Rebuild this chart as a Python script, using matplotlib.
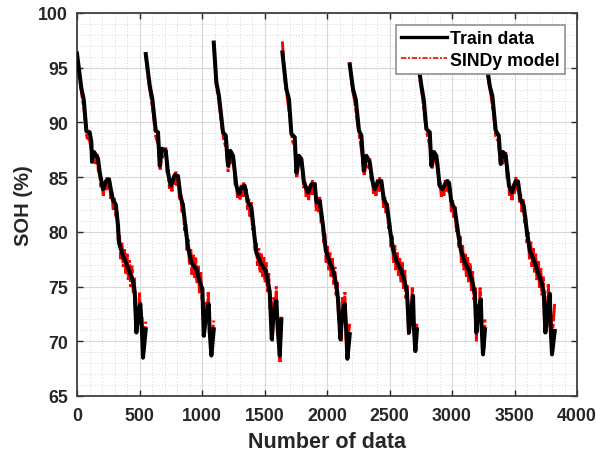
import numpy as np
import matplotlib
matplotlib.use("Agg")
import matplotlib.pyplot as plt
from matplotlib.ticker import MultipleLocator
from matplotlib.lines import Line2D

# ---------------- data ----------------
cycle_start = [0, 550, 1094, 1643, 2182, 2725, 3270]

train_off_1 = [0, 35, 54, 75, 101, 115, 120, 136, 168, 182, 208, 235, 256, 275, 288, 310, 328, 336, 368, 395, 422, 448, 462, 475, 488, 507, 520, 528, 550]
train_soh_1 = [96.3, 93.1, 92.1, 89.2, 89.1, 88.2, 86.4, 87.3, 86.7, 85.4, 83.9, 84.7, 84.8, 83.6, 82.9, 82.5, 80.6, 79.0, 77.8, 77.1, 76.3, 75.5, 74.5, 70.8, 72.6, 73.4, 70.8, 68.5, 71.1]

train_off_2 = [0, 32, 53, 80, 98, 112, 130, 160, 178, 200, 232, 258, 277, 298, 320, 338, 365, 405, 432, 453, 464, 485, 504, 512, 525, 544]
train_soh_2 = [96.25, 93.35, 92.1, 89.25, 89.1, 86.05, 87.6, 87.4, 85.4, 84.2, 85.2, 85.1, 83.3, 82.4, 80.25, 78.6, 77.2, 76.6, 75.4, 74.8, 70.5, 72.6, 73.4, 70.8, 68.7, 71.1]

train_off_3 = [0, 21, 42, 74, 96, 114, 133, 154, 181, 202, 221, 248, 274, 301, 322, 341, 381, 416, 434, 448, 464, 480, 501, 514, 528, 541]
train_soh_3 = [97.3, 93.65, 92.4, 89.1, 88.8, 86.05, 87.4, 86.95, 84.2, 83.45, 84.05, 84.2, 82.7, 82.25, 79.95, 78.1, 77.05, 76.45, 75.4, 74.5, 70.2, 72.6, 73.7, 70.8, 68.7, 72.0]

train_off_4 = [0, 32, 53, 72, 99, 112, 133, 152, 173, 205, 232, 259, 272, 299, 325, 347, 379, 411, 432, 445, 464, 480, 499, 512, 520, 539]
train_soh_4 = [96.4, 93.05, 92.1, 88.95, 88.65, 85.4, 86.95, 86.65, 84.5, 83.6, 84.35, 84.35, 82.7, 82.85, 80.55, 78.3, 77.2, 76.3, 75.1, 73.85, 70.2, 72.6, 73.4, 70.8, 68.4, 70.65]

train_off_5 = [0, 26, 48, 74, 93, 112, 133, 160, 181, 200, 226, 253, 272, 298, 325, 346, 378, 413, 440, 458, 474, 493, 506, 514, 525, 538]
train_soh_5 = [95.3, 93.05, 92.1, 89.25, 88.8, 85.6, 86.95, 86.35, 84.65, 83.9, 84.6, 84.65, 83.0, 82.4, 79.95, 78.4, 77.2, 76.45, 75.4, 74.5, 70.8, 72.95, 74.15, 71.1, 69.1, 71.1]

train_off_6 = [0, 30, 49, 70, 97, 110, 131, 150, 177, 198, 230, 251, 270, 297, 323, 345, 377, 411, 438, 457, 470, 489, 505, 513, 523, 539]
train_soh_6 = [95.8, 93.35, 92.1, 89.4, 89.1, 86.05, 87.3, 86.95, 84.2, 83.9, 84.6, 84.5, 82.7, 82.1, 79.95, 78.4, 77.2, 76.45, 75.4, 74.5, 70.8, 72.95, 73.85, 71.1, 68.8, 71.1]

train_off_7 = [0, 32, 53, 80, 104, 120, 138, 160, 186, 208, 240, 258, 277, 304, 330, 352, 392, 418, 445, 464, 477, 498, 512, 520, 530, 552]
train_soh_7 = [95.8, 93.35, 92.4, 89.25, 88.8, 86.2, 87.3, 86.95, 84.2, 83.6, 84.65, 84.6, 83.0, 82.4, 79.95, 78.3, 77.2, 76.3, 75.4, 74.5, 70.8, 73.25, 74.35, 71.1, 68.8, 70.95]

# SINDy model: common local sample grid; the last point sits at each cycle's final sample
sindy_off = [0, 20, 40, 60, 80, 100, 115, 130,
             150, 160, 170, 180, 190, 200, 210, 220, 230, 240,
             250, 260, 270, 280, 290, 300, 310, 320, 330, 340,
             350, 360, 370, 380, 390, 400, 410, 420, 430, 440,
             450, 460, 470, 480, 490, 500, 510, 520, 530]

sindy_soh_1 = [96.2, 94.2, 92.4, 90.9, 88.6, 88.4, 87.4, 86.4,
               86.3, 87.1, 85.7, 85.8, 84.1, 84.6, 83.2, 84.5, 83.8, 85.0,
               83.9, 84.9, 82.9, 83.6, 81.9, 83.1, 81.4, 81.8, 79.2, 79.7,
               77.5, 79.0, 76.8, 78.4, 76.2, 78.0, 75.6, 77.4, 75.0, 76.9,
               74.4, 75.8, 71.2, 73.0, 71.5, 74.5, 71.8, 72.2, 69.5, 71.8]
sindy_soh_2 = [96.1, 94.0, 92.4, 90.8, 88.7, 88.0, 85.7, 86.9,
               86.8, 87.7, 85.5, 85.5, 83.9, 84.4, 83.7, 85.1, 84.3, 85.5,
               84.2, 85.2, 82.9, 83.5, 81.7, 82.6, 80.1, 80.7, 78.3, 79.3,
               77.0, 78.4, 76.1, 77.9, 75.8, 77.7, 75.3, 76.9, 74.4, 76.3,
               73.9, 73.3, 70.4, 73.6, 71.6, 74.6, 70.5, 70.9, 70.2, 71.9]
sindy_soh_3 = [97.2, 93.4, 92.0, 90.0, 88.4, 87.6, 85.5, 86.6,
               86.3, 86.8, 84.5, 84.6, 83.1, 83.8, 82.9, 84.3, 83.2, 84.5,
               83.2, 83.9, 82.0, 83.0, 81.4, 82.7, 80.2, 80.6, 78.2, 79.0,
               76.9, 78.5, 76.3, 78.0, 75.9, 77.7, 75.4, 77.2, 74.5, 76.2,
               72.9, 72.6, 70.0, 74.0, 72.0, 75.0, 70.6, 71.2, 68.1, 72.4]
sindy_soh_4 = [97.4, 93.9, 92.2, 90.4, 88.3, 87.8, 85.0, 86.1,
               85.9, 86.2, 84.0, 84.6, 83.2, 84.0, 82.9, 84.3, 83.4, 84.7,
               83.4, 84.6, 81.9, 83.1, 81.8, 83.2, 80.8, 81.4, 79.0, 79.8,
               77.2, 78.8, 76.5, 78.1, 75.9, 77.6, 75.2, 76.8, 74.1, 75.4,
               71.8, 72.3, 70.0, 74.0, 71.8, 74.5, 70.2, 69.6, 70.8, 71.6]
sindy_soh_5 = [95.5, 93.1, 91.9, 90.1, 88.5, 87.0, 85.2, 86.1,
               85.9, 86.7, 84.8, 85.0, 83.5, 84.2, 83.3, 84.8, 83.7, 85.0,
               83.7, 84.4, 82.2, 83.2, 81.6, 82.6, 80.3, 80.9, 78.6, 79.7,
               77.2, 78.8, 76.5, 78.1, 75.9, 77.7, 75.4, 77.2, 74.8, 76.5,
               73.9, 75.2, 70.6, 73.0, 71.4, 75.0, 71.5, 71.4, 71.2, 71.6]
sindy_soh_6 = [95.7, 93.8, 92.2, 90.1, 88.7, 87.8, 85.8, 86.6,
               86.3, 86.5, 84.1, 84.5, 83.2, 84.2, 83.3, 84.7, 83.7, 84.9,
               83.6, 84.0, 81.8, 82.9, 81.3, 82.3, 80.0, 80.7, 78.5, 79.6,
               77.2, 78.8, 76.5, 78.1, 75.9, 77.7, 75.4, 77.1, 74.6, 76.4,
               73.8, 74.9, 70.0, 73.4, 71.9, 74.9, 71.1, 70.9, 69.2, 72.0]
sindy_soh_7 = [95.7, 93.9, 92.6, 91.0, 88.7, 88.3, 86.4, 86.2,
               86.5, 87.3, 85.1, 85.2, 83.3, 84.2, 82.9, 84.4, 83.5, 85.0,
               83.8, 84.8, 82.7, 83.4, 81.8, 83.0, 80.8, 81.4, 79.0, 80.0,
               77.5, 79.1, 76.8, 78.6, 76.3, 78.0, 75.6, 77.3, 74.9, 76.7,
               74.2, 75.9, 71.8, 72.8, 71.3, 75.2, 73.0, 72.6, 70.0, 73.6]

train_offs = [train_off_1, train_off_2, train_off_3, train_off_4, train_off_5, train_off_6, train_off_7]
train_sohs = [train_soh_1, train_soh_2, train_soh_3, train_soh_4, train_soh_5, train_soh_6, train_soh_7]
sindy_sohs = [sindy_soh_1, sindy_soh_2, sindy_soh_3, sindy_soh_4, sindy_soh_5, sindy_soh_6, sindy_soh_7]

x_ticks = [0, 500, 1000, 1500, 2000, 2500, 3000, 3500, 4000]
y_ticks = [65, 70, 75, 80, 85, 90, 95, 100]
legend_labels = ["Train data", "SINDy model"]
x_label = "Number of data"
y_label = "SOH (%)"

# ---------------- style ----------------
fam = "Liberation Sans"
plt.rcParams["font.family"] = [fam, "DejaVu Sans"]
plt.rcParams["font.weight"] = "bold"
tick_fs, xlab_fs, ylab_fs, leg_fs = 12.8, 15.5, 14.5, 12.8
red_ls_plot = (0, (6, 0.8, 1.5, 0.8))
red_ls_leg = (0, (3.2, 1.0, 1.2, 1.0))
txt_col = "#262626"

fig = plt.figure(figsize=(5.96, 4.60), dpi=100)
ax = fig.add_axes([77 / 596, 63 / 460, 500 / 596, 383 / 460])

for start, offs, t_soh, s_soh in zip(cycle_start, train_offs, train_sohs, sindy_sohs):
    sx = [start + o for o in sindy_off] + [start + offs[-1]]
    tx = [start + o for o in offs]
    ax.plot(sx, s_soh, color="#ff0000", lw=2.1, ls=red_ls_plot, zorder=2,
            solid_joinstyle="miter", dash_joinstyle="miter")
    ax.plot(tx, t_soh, color="black", lw=2.9, zorder=3, solid_joinstyle="round")

ax.set_xlim(0, 4000)
ax.set_ylim(65, 100)
ax.set_xticks(x_ticks)
ax.set_yticks(y_ticks)
ax.xaxis.set_minor_locator(MultipleLocator(100))
ax.yaxis.set_minor_locator(MultipleLocator(1))
ax.grid(which="major", color="#d8d8d8", lw=0.8, ls="-", zorder=0)
ax.grid(which="minor", color="#c8c8c8", lw=0.6, ls=(0, (1, 2.5)), zorder=0)
ax.set_axisbelow(True)
ax.tick_params(which="major", direction="in", length=4, width=1, top=True, right=True,
               labelsize=tick_fs, colors=txt_col)
ax.tick_params(axis="x", which="major", pad=8)
ax.tick_params(axis="y", which="major", pad=6.5)
ax.tick_params(which="minor", length=0, top=True, right=True)
for lab in ax.get_xticklabels() + ax.get_yticklabels():
    lab.set_fontweight("bold")
for sp in ax.spines.values():
    sp.set_color("#404040")
    sp.set_linewidth(1.3)

ax.set_xlabel(x_label, fontsize=xlab_fs, fontweight="bold", color=txt_col, labelpad=5)
ax.set_ylabel(y_label, fontsize=ylab_fs, fontweight="bold", color=txt_col, labelpad=4)

handles = [Line2D([0], [0], color="black", lw=2.4),
           Line2D([0], [0], color="#ff0000", lw=1.2, ls=red_ls_leg)]
leg = ax.legend(handles, legend_labels, loc="upper right", bbox_to_anchor=(0.976, 0.969),
                borderaxespad=0, fancybox=False, framealpha=1, edgecolor="#909090",
                prop={"family": [fam], "weight": "bold", "size": leg_fs},
                handlelength=2.6, handletextpad=0.15, borderpad=0.3, labelspacing=0.25)
leg.get_frame().set_linewidth(1.2)
leg.set_zorder(5)

fig.savefig("out.png", dpi=100)
